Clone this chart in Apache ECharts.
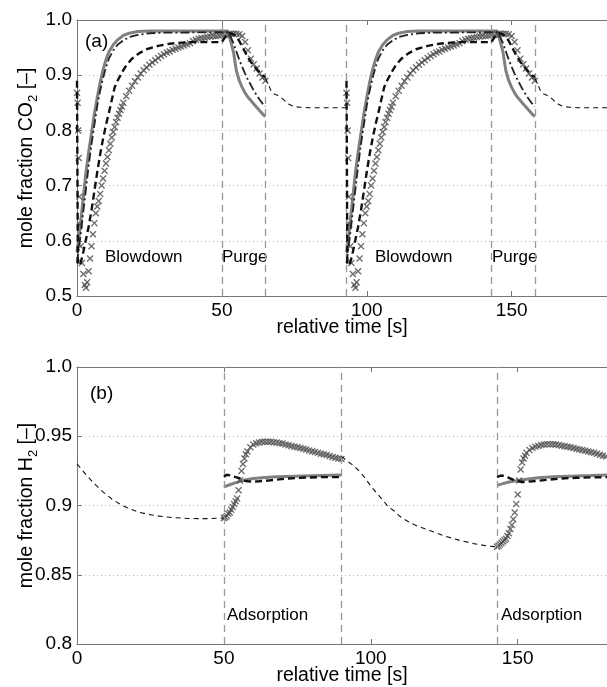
<!DOCTYPE html>
<html>
<head>
<meta charset="utf-8">
<script src="https://cdn.jsdelivr.net/npm/echarts@6/dist/echarts.min.js"></script>
<style>
html,body{margin:0;padding:0;background:#fff;}
#c{width:607px;height:687px;}
</style>
</head>
<body>
<div id="c"></div>
<script>
// ---------- Panel (a): CO2, values per cycle, time relative to cycle start ----------
const cycleStartsA = [0, 93];
const phaseLinesA = [50, 65, 93, 143, 158];
const ticksX = [0, 50, 100, 150];

// grey solid model
const aGreyT = [0,1,2,3,4,5,6,7,8,9,10,11,12.5,14,16,18,21,25,52,53,54,55,56,57,58,59,60,61,62,63,64,65];
const aGreyV = [0.58,0.62,0.67,0.72,0.76,0.795,0.83,0.86,0.887,0.91,0.928,0.942,0.955,0.964,0.972,0.976,0.979,0.98,0.98,0.962,0.942,0.908,0.89,0.878,0.868,0.86,0.854,0.848,0.842,0.836,0.83,0.825];

// dash-dot model
const aDotT = [0,1,2,3,4,5,6,7,8,9,10,11,12.5,14,16,18,21,25,30,52,53,54,55,56,57,58,59,60,61,62,63,64,65];
const aDotV = [0.56,0.6,0.645,0.69,0.735,0.775,0.81,0.845,0.872,0.895,0.914,0.93,0.945,0.955,0.963,0.969,0.973,0.976,0.977,0.978,0.97,0.958,0.943,0.928,0.915,0.903,0.892,0.882,0.872,0.864,0.856,0.849,0.843];

// heavy dashed model
const aDashT = [0,0.3,1,2,3,4,5,6,7,8,9,10,11,12,13,14,15.5,17,19,21.5,24,28,32,36,40,50,51,52,53,54,55,56,57,58,59,60,61,62,63,64,65];
const aDashV = [0.89,0.56,0.555,0.575,0.6,0.625,0.655,0.69,0.725,0.757,0.785,0.81,0.832,0.855,0.878,0.89,0.905,0.918,0.93,0.94,0.947,0.953,0.957,0.959,0.96,0.96,0.968,0.975,0.976,0.974,0.97,0.962,0.952,0.942,0.932,0.924,0.917,0.911,0.905,0.9,0.896];

// thin dashed (idle step)
const aThinT = [65,66,67,68,69,70,71,72,73,74,75,77,80,93];
const aThinV = [0.895,0.884,0.871,0.866,0.864,0.861,0.857,0.852,0.848,0.845,0.843,0.842,0.841,0.841];

// experimental crosses
const aExpT = [0,0.2,0.4,0.6,0.8,1.0,1.3,1.7,2.2,2.7,3.1,3.5,4.0,4.5,5.0,5.5,6.0,6.5,7.0,7.5,8,8.5,9,9.5,10,10.5,11,11.5,12,12.5,13,13.5,14,14.5,15,15.5,16,17,18,19,20,21,22,23,24,25,26,27,28,29,30,31,32,33,34,35,36,37,38,39,40,41,42,43,44,45,46,47,48,49,50,51,52,53,54,55,56,57,58,59,60,61,62,63,64,65];
const aExpV = [0.868,0.85,0.80,0.75,0.68,0.63,0.59,0.56,0.54,0.52,0.515,0.525,0.545,0.568,0.59,0.612,0.632,0.65,0.662,0.672,0.685,0.70,0.713,0.727,0.74,0.752,0.764,0.776,0.787,0.797,0.806,0.815,0.823,0.83,0.837,0.843,0.85,0.862,0.872,0.881,0.889,0.896,0.903,0.909,0.914,0.919,0.923,0.927,0.931,0.935,0.938,0.941,0.943,0.946,0.948,0.95,0.952,0.954,0.956,0.958,0.962,0.964,0.966,0.967,0.968,0.969,0.97,0.971,0.971,0.972,0.973,0.973,0.974,0.975,0.975,0.975,0.974,0.971,0.96,0.945,0.93,0.92,0.912,0.903,0.896,0.89];

// ---------- Panel (b): H2 ----------
const phaseLinesB = [50, 90, 143];

const bThin1T = [0,3,6,9,12,15,18,21,24,28,33,38,44,50];
const bThin1V = [0.93,0.9225,0.9155,0.9095,0.9045,0.9005,0.8975,0.8952,0.8937,0.8923,0.8912,0.8906,0.8905,0.891];
const bThin2T = [90,92,94,96,98,100,102,104,106,108,110,113,116,120,125,130,135,140,143];
const bThin2V = [0.9355,0.932,0.929,0.925,0.92,0.914,0.909,0.904,0.899,0.896,0.892,0.888,0.885,0.882,0.878,0.875,0.8725,0.8707,0.8702];

const bExp1T = [50,50.5,51,51.5,52,52.5,53,53.5,54,54.5,55,55.5,56,56.5,57,57.5,58,59,60,61,62,63,64,65,66,67,68,69,70,71,72,73,74,75,76,77,78,79,80,81,82,83,84,85,86,87,88,89,90];
const bExp1V = [0.891,0.8915,0.8925,0.894,0.895,0.897,0.899,0.901,0.903,0.905,0.911,0.918,0.925,0.93,0.934,0.937,0.939,0.942,0.944,0.945,0.9455,0.946,0.946,0.946,0.946,0.9457,0.9454,0.945,0.9447,0.944,0.9435,0.943,0.9425,0.942,0.9415,0.941,0.9404,0.9398,0.9392,0.9386,0.938,0.9374,0.937,0.9364,0.9358,0.935,0.9345,0.934,0.9335];
const bExp2T = [143,143.5,144,144.5,145,145.5,146,146.5,147,147.5,148,148.5,149,149.5,150,150.5,151,151.5,152,152.5,153,154,155,156,157,158,159,160,161,162,163,164,165,166,167,168,169,170,171,172,173,174,175,176,177,178,179,180,181];
const bExp2V = [0.8702,0.871,0.872,0.873,0.874,0.875,0.876,0.878,0.88,0.883,0.886,0.89,0.895,0.901,0.908,0.918,0.926,0.931,0.934,0.936,0.938,0.94,0.9415,0.9425,0.943,0.9437,0.944,0.9443,0.9443,0.9442,0.944,0.9436,0.9432,0.9428,0.9424,0.942,0.9415,0.941,0.9405,0.94,0.9395,0.939,0.9385,0.938,0.9373,0.9367,0.936,0.9355,0.935];

const bGrey1T = [50,52,54,56,58,60,64,68,74,80,90];
const bGrey1V = [0.9135,0.915,0.9165,0.9178,0.9188,0.9195,0.9203,0.9207,0.9212,0.9215,0.922];
const bGrey2T = [143,145,147,150,153,157,162,168,175,181];
const bGrey2V = [0.9145,0.9158,0.917,0.918,0.919,0.92,0.9207,0.9212,0.9216,0.922];

const bDash1T = [50,51,52,53,54,55,56,57,58,60,62,65,68,72,78,84,90];
const bDash1V = [0.9207,0.9222,0.9218,0.921,0.9205,0.92,0.919,0.918,0.9175,0.9172,0.9175,0.918,0.9187,0.9195,0.9202,0.9205,0.9205];
const bDash2T = [143,144,145,146,147,148,149,150,152,155,160,165,170,175,181];
const bDash2V = [0.9205,0.9215,0.9215,0.921,0.92,0.919,0.918,0.9175,0.917,0.9175,0.9185,0.9195,0.92,0.9203,0.9205];

// ---------- build ----------
const FONT = '"Liberation Sans", Arial, Helvetica, sans-serif';
const CROSS = 'path://M0,1.4L1.4,0L5,3.6L8.6,0L10,1.4L6.4,5L10,8.6L8.6,10L5,6.4L1.4,10L0,8.6L3.6,5Z';
const pairs = (T, V, off) => T.map((t, i) => [t + (off || 0), V[i]]);

const greyStyle = {color:'#808080', width:3, type:'solid'};
const dashStyle = {color:'#111', width:2.4, type:[7,4]};
const dotStyle  = {color:'#222', width:1.8, type:[9,3,2,3]};
const thinStyle = {color:'#111', width:1.1, type:[5,4]};

function lineSeries(data, style, xi, yi, z) {
  return {type:'line', data, xAxisIndex:xi, yAxisIndex:yi, showSymbol:false, symbol:'none',
          lineStyle:style, z:z, silent:true, animation:false};
}
function crossSeries(data, xi, yi) {
  return {type:'scatter', data, xAxisIndex:xi, yAxisIndex:yi, symbol:CROSS, symbolSize:7,
          itemStyle:{color:'#4a4a4a'}, z:4, silent:true, animation:false};
}
function vlineSeries(xs, xi, yi) {
  return {type:'line', data:[], xAxisIndex:xi, yAxisIndex:yi, silent:true,
    markLine:{silent:true, symbol:['none','none'], label:{show:false},
      lineStyle:{color:'#999', width:1.3, type:[7,5]},
      data: xs.map(x => ({xAxis:x}))}, z:1};
}

const series = [];
series.push(vlineSeries(phaseLinesA, 0, 0));
cycleStartsA.forEach(off => {
  series.push(lineSeries(pairs(aGreyT, aGreyV, off), greyStyle, 0, 0, 2));
  series.push(crossSeries(pairs(aExpT, aExpV, off), 0, 0));
  series.push(lineSeries(pairs(aDotT, aDotV, off), dotStyle, 0, 0, 5));
  series.push(lineSeries(pairs(aDashT, aDashV, off), dashStyle, 0, 0, 5));
  series.push(lineSeries(pairs(aThinT, aThinV, off), thinStyle, 0, 0, 5));
});
series.push(vlineSeries(phaseLinesB, 2, 1));
series.push(lineSeries(pairs(bThin1T, bThin1V), thinStyle, 2, 1, 5));
series.push(lineSeries(pairs(bThin2T, bThin2V), thinStyle, 2, 1, 5));
series.push(lineSeries(pairs(bGrey1T, bGrey1V), greyStyle, 2, 1, 2));
series.push(lineSeries(pairs(bGrey2T, bGrey2V), greyStyle, 2, 1, 2));
series.push(crossSeries(pairs(bExp1T, bExp1V), 2, 1));
series.push(crossSeries(pairs(bExp2T, bExp2V), 2, 1));
series.push(lineSeries(pairs(bDash1T, bDash1V), dashStyle, 2, 1, 5));
series.push(lineSeries(pairs(bDash2T, bDash2V), dashStyle, 2, 1, 5));

const TICKFS = 19, NAMEFS = 19.5;
const axisLine = {show:true, lineStyle:{color:'#777', width:1}};
function xAxisBottom(grid, max) {
  return {type:'value', gridIndex:grid, min:0, max:max, interval:50, position:'bottom',
    axisLine, axisTick:{show:true, inside:true, length:5, lineStyle:{color:'#777'}},
    axisLabel:{fontFamily:FONT, fontSize:TICKFS, color:'#000', margin:5, showMaxLabel:false,
      formatter: v => ticksX.indexOf(v) >= 0 ? String(v) : ''},
    splitLine:{show:false},
    name:'relative time [s]', nameLocation:'middle', nameGap:22, nameMoveOverlap:false,
    nameTextStyle:{fontFamily:FONT, fontSize:NAMEFS, color:'#000'}};
}
function xAxisTop(grid, max) {
  return {type:'value', gridIndex:grid, min:0, max:max, interval:50, position:'top',
    axisLine, axisTick:{show:true, inside:true, length:5, lineStyle:{color:'#777'}},
    axisLabel:{show:false}, splitLine:{show:false}};
}
function yAxis(grid, min, max, interval, fmt, gas) {
  return {type:'value', gridIndex:grid, min, max, interval,
    axisLine, axisTick:{show:true, inside:true, length:5, lineStyle:{color:'#777'}},
    axisLabel:{fontFamily:FONT, fontSize:TICKFS, color:'#000', margin:5, formatter:fmt},
    splitLine:{show:true, lineStyle:{color:'#bbb', type:[1,3], width:1}},
    name:'{a|mole fraction ' + gas + '}{s|2}{a| [–]}', nameLocation:'middle', nameGap:37, nameRotate:90,
    nameMoveOverlap:false,
    nameTextStyle:{fontFamily:FONT, fontSize:NAMEFS, color:'#000',
      rich:{a:{fontFamily:FONT, fontSize:NAMEFS, color:'#000', lineHeight:26, verticalAlign:'middle'},
            s:{fontFamily:FONT, fontSize:13, color:'#000', lineHeight:26, verticalAlign:'bottom'}}}};
}

const chart = echarts.init(document.getElementById('c'), null, {renderer:'canvas'});
const txt = (x, y, s) => ({type:'text', left:x, top:y, silent:true,
  style:{text:s, font:'17px ' + FONT, fill:'#000'}});
chart.setOption({
  animation:false,
  backgroundColor:'#fff',
  grid:[{left:77, top:20, width:530, height:276, containLabel:false, outerBoundsMode:'none'},
        {left:77, top:367, width:530, height:277, containLabel:false, outerBoundsMode:'none'}],
  xAxis:[xAxisBottom(0, 182.9), xAxisTop(0, 182.9), xAxisBottom(1, 180.4), xAxisTop(1, 180.4)],
  yAxis:[yAxis(0, 0.5, 1.0, 0.1, v => v.toFixed(1), 'CO'),
         yAxis(1, 0.8, 1.0, 0.05, v => (Math.round(v*100) % 10 === 0 ? v.toFixed(1) : v.toFixed(2)), 'H')],
  series,
  graphic:[
    {type:'text', left:85, top:32, silent:true, style:{text:'(a)', font:'19px ' + FONT, fill:'#000'}},
    txt(105, 249, 'Blowdown'), txt(222, 249, 'Purge'),
    txt(375, 249, 'Blowdown'), txt(492, 249, 'Purge'),
    {type:'text', left:90, top:384, silent:true, style:{text:'(b)', font:'19px ' + FONT, fill:'#000'}},
    txt(227, 607, 'Adsorption'), txt(501, 607, 'Adsorption')
  ]
});
</script>
</body>
</html>
